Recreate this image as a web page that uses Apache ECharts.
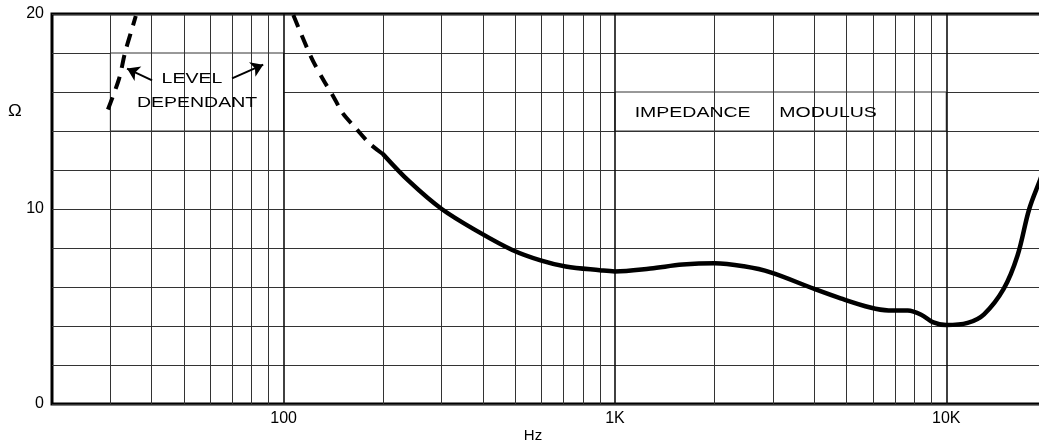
<!DOCTYPE html>
<html><head><meta charset="utf-8">
<script src="https://cdn.jsdelivr.net/npm/echarts@6/dist/echarts.min.js"></script>
<style>html,body{margin:0;padding:0;background:#fff}#c{width:1039px;height:441px}</style>
</head><body><div id="c"></div>
<script>
// ---- data ----
const levelDashFreq = [29.5, 31.9, 33.2, 35.1, 35.8];
const levelDashVal  = [15.1, 16.7, 18.0, 19.4, 19.9];

const lowDashFreq = [107, 121, 132, 141, 151, 165, 182, 200];
const lowDashVal  = [19.95, 17.8, 16.6, 15.8, 14.9, 14.15, 13.35, 12.8];

const impFreq = [200, 240, 300, 390, 490, 600, 710, 900, 1000, 1280, 1600, 2000, 2450, 2950, 4000, 4800, 5900, 6700, 7650, 8400, 9100, 10000, 11600, 13000, 14900, 16400, 17800, 19200, 20000];
const impVal  = [12.8, 11.4, 10.0, 8.8, 7.9, 7.35, 7.05, 6.86, 6.8, 6.95, 7.15, 7.22, 7.06, 6.75, 5.9, 5.42, 4.95, 4.8, 4.79, 4.58, 4.2, 4.05, 4.16, 4.6, 5.9, 7.6, 10.0, 11.5, 12.3];

const xTickValues = [100, 1000, 10000];
const xTickLabels = ['100', '1K', '10K'];
const yTickValues = [0, 10, 20];
const decades = [10, 100, 1000, 10000];
const xGridLines = [];
decades.forEach(d => { for (let m = 1; m <= 9; m++) { const v = d * m; if (v > 20 && v <= 10000) xGridLines.push(v); } });

const annotTexts = ['LEVEL', 'DEPENDANT', 'IMPEDANCE', 'MODULUS'];
const annotFreq  = [52.9, 54.8, 1716, 4399];
const annotVal   = [16.65, 15.45, 14.95, 14.95];

const boxes = [[[30, 18], [100, 14]], [[1000, 16], [10000, 14]]];
const arrows = [[[40.1, 16.6], [33.7, 17.2]], [[69.9, 16.7], [86.8, 17.4]]];

const FONT = '"Liberation Sans", Arial, sans-serif';
const zip = (a, b) => a.map((v, i) => [v, b[i]]);

const chart = echarts.init(document.getElementById('c'));
chart.setOption({
  animation: false,
  grid: { left: 52, right: -7, top: 14, bottom: 37, containLabel: false, outerBoundsMode: 'none',
    show: true, borderColor: '#000', borderWidth: 3, backgroundColor: 'transparent' },
  xAxis: {
    type: 'log', logBase: 10, min: 20, max: 20000,
    axisLine: { show: false }, axisTick: { show: false }, splitLine: { show: false },
    axisLabel: {
      color: '#000', fontSize: 16, fontFamily: FONT, margin: 7,
      formatter: v => { const i = xTickValues.findIndex(t => Math.abs(Math.log10(v) - Math.log10(t)) < 1e-6); return i >= 0 ? xTickLabels[i] : ''; }
    },
    name: 'Hz', nameLocation: 'middle', nameGap: 24, nameMoveOverlap: false,
    nameTextStyle: { color: '#000', fontSize: 15, fontFamily: FONT, padding: [0, 32, 0, 0] }
  },
  yAxis: {
    type: 'value', min: 0, max: 20, interval: 2,
    axisLine: { show: false }, axisTick: { show: false },
    splitLine: { show: true, lineStyle: { color: '#333', width: 1 } },
    axisLabel: { color: '#000', fontSize: 16, fontFamily: FONT, margin: 8, formatter: v => yTickValues.includes(v) ? String(v) : '' }
  },
  series: [
    { type: 'line', name: 'grid', data: [], z: 1, silent: true,
      markLine: { silent: true, symbol: 'none', label: { show: false },
        lineStyle: { type: 'solid', color: '#333', width: 1 },
        data: xGridLines.map(v => ({ xAxis: v, lineStyle: { type: 'solid', color: decades.includes(v) ? '#111' : '#333', width: decades.includes(v) ? 1.6 : 1 } })) } },
    { type: 'line', name: 'boxes', data: [], z: 2, silent: true,
      markArea: { silent: true, itemStyle: { color: '#fff', opacity: 1, borderColor: '#333', borderWidth: 1 },
        data: boxes.map(b => [{ coord: b[0] }, { coord: b[1] }]) } },
    { type: 'line', name: 'level', z: 5, data: zip(levelDashFreq, levelDashVal), smooth: 0.3, symbol: 'none',
      lineStyle: { color: '#000', width: 4, type: [13, 9], cap: 'butt' } },
    { type: 'line', name: 'lowDash', z: 5, data: zip(lowDashFreq, lowDashVal), smooth: 0.3, symbol: 'none',
      lineStyle: { color: '#000', width: 4, type: [13, 9], cap: 'butt' } },
    { type: 'line', name: 'impedance', z: 5, data: zip(impFreq, impVal), smooth: 0.35, symbol: 'none',
      lineStyle: { color: '#000', width: 4.5, type: 'solid', cap: 'round' } },
    { type: 'line', name: 'arrows', data: [], z: 6, silent: true,
      markLine: { silent: true, symbol: ['none', 'arrow'], symbolSize: 12, label: { show: false },
        lineStyle: { color: '#000', width: 2, type: 'solid' },
        itemStyle: { color: '#000' },
        data: arrows.map(a => [{ coord: a[0] }, { coord: a[1] }]) } }
  ]
});

const g = [];
annotTexts.forEach((t, i) => {
  const p = chart.convertToPixel({ gridIndex: 0 }, [annotFreq[i], annotVal[i]]);
  g.push({ type: 'text', x: p[0], y: p[1], scaleX: 1.3, z: 10,
    style: { text: t, fill: '#000', font: '15px ' + FONT, align: 'center', verticalAlign: 'middle' } });
});
const pO = chart.convertToPixel({ gridIndex: 0 }, [20, 15.0]);
g.push({ type: 'text', x: pO[0] - 37, y: pO[1], scaleX: 1.15, z: 10,
  style: { text: 'Ω', fill: '#000', font: '16px ' + FONT, align: 'center', verticalAlign: 'middle' } });
chart.setOption({ graphic: g });
</script>
</body></html>
